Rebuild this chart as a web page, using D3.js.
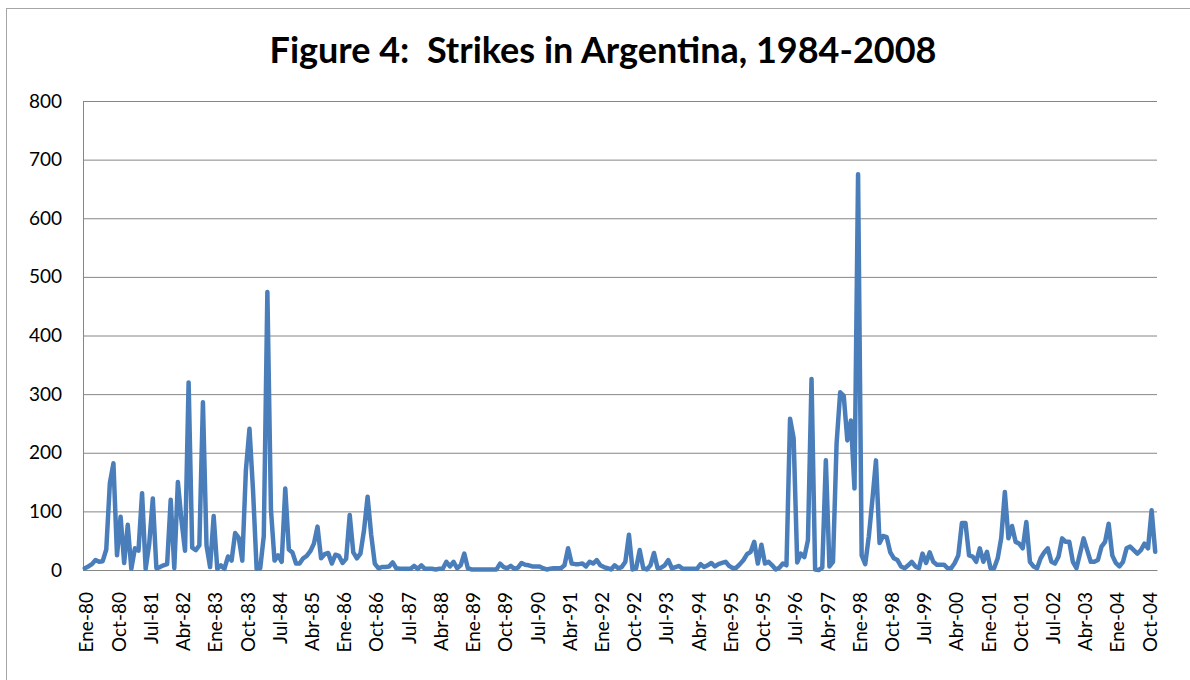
<!DOCTYPE html>
<html>
<head>
<meta charset="utf-8">
<script src="https://cdn.jsdelivr.net/npm/d3@7/dist/d3.min.js"></script>
<style>
    body { margin: 0; background: #fff; }
    svg text { font-family: Lato, "Open Sans", sans-serif; fill: #000; }
</style>
</head>
<body>
<div id="chart-wrapper"></div>
<script>
// month names used in the category axis (Spanish, as in the source sheet)
const monthAbbr = ["Ene","Feb","Mar","Abr","May","Jun","Jul","Ago","Sep","Oct","Nov","Dic"];
const years = d3.range(1980, 2005);

// monthly strikes, one line per year (Ene..Dic)
const strikes = [
    3, 6, 10, 17, 14, 15, 35, 148, 182, 25, 91, 12,        // 80
    77, 2, 37, 33, 131, 2, 45, 122, 3, 5, 8, 10,           // 81
    120, 3, 150, 85, 33, 320, 38, 34, 42, 286, 42, 5,      // 82
    92, 2, 8, 2, 23, 16, 63, 55, 16, 170, 241, 135,        // 83
    2, 3, 58, 474, 103, 16, 25, 14, 139, 35, 30, 11,       // 84
    11, 20, 24, 32, 45, 74, 20, 27, 29, 11, 26, 24,        // 85
    12, 19, 94, 30, 20, 28, 68, 125, 60, 11, 3, 5,         // 86
    5, 6, 13, 3, 2, 2, 2, 2, 7, 2, 8, 2,                   // 87
    2, 2, 1, 2, 2, 14, 6, 14, 3, 8, 28, 3,                 // 88
    1, 1, 1, 1, 1, 1, 1, 1, 11, 5, 3, 7,                   // 89
    2, 4, 12, 9, 8, 6, 6, 6, 3, 1, 2, 3,                   // 90
    3, 3, 8, 37, 11, 10, 10, 11, 6, 14, 11, 17,            // 91
    8, 5, 3, 1, 8, 3, 5, 14, 60, 1, 3, 34,                 // 92
    3, 1, 8, 29, 3, 4, 8, 17, 3, 5, 7, 2,                  // 93
    2, 2, 2, 2, 10, 5, 8, 12, 6, 10, 12, 14,               // 94
    7, 3, 4, 10, 17, 27, 31, 48, 11, 43, 11, 14,           // 95
    8, 1, 4, 11, 8, 258, 225, 13, 28, 22, 51, 326,         // 96
    1, 0, 4, 187, 6, 14, 216, 303, 297, 221, 255, 139,     // 97
    675, 25, 10, 57, 120, 187, 46, 58, 56, 30, 20, 17,     // 98
    6, 3, 8, 14, 6, 3, 28, 12, 30, 14, 9, 9,               // 99
    9, 3, 3, 12, 25, 80, 80, 25, 23, 14, 37, 14,           // 00
    31, 3, 3, 20, 55, 133, 54, 75, 48, 45, 37, 82,         // 01
    14, 6, 3, 20, 30, 37, 14, 11, 23, 54, 48, 48,          // 02
    14, 3, 28, 54, 34, 14, 14, 17, 40, 48, 79, 25,         // 03
    12, 6, 14, 37, 40, 34, 28, 34, 45, 37, 102, 31         // 04
];

const yTicks = [0, 100, 200, 300, 400, 500, 600, 700, 800];
const tickLabels = ["Ene-80","Oct-80","Jul-81","Abr-82","Ene-83","Oct-83","Jul-84","Abr-85",
    "Ene-86","Oct-86","Jul-87","Abr-88","Ene-89","Oct-89","Jul-90","Abr-91","Ene-92","Oct-92",
    "Jul-93","Abr-94","Ene-95","Oct-95","Jul-96","Abr-97","Ene-98","Oct-98","Jul-99","Abr-00",
    "Ene-01","Oct-01","Jul-02","Abr-03","Ene-04","Oct-04"];

const titleText = "Figure 4:  Strikes in Argentina, 1984-2008";

class StrikesChart {
    constructor(){
        this.size = {
            "width": 1190,
            "height": 680,
            "left": 83,
            "right": 1157,
            "top": 101,
            "bottom": 570
        }
        this.categories = years.flatMap(yr => monthAbbr.map(m => m + "-" + String(yr).slice(2)));
        this.svg;
    }

    drawChart(){
        this.svg = d3.select("#chart-wrapper")
            .append("svg")
            .attr("width", this.size.width)
            .attr("height", this.size.height);

        // outer chart frame (runs off the picture on the right and bottom)
        this.svg.append("rect")
            .attr("x", 6.5).attr("y", 8.5)
            .attr("width", 1300).attr("height", 800)
            .attr("fill", "none")
            .attr("stroke", "#a6a6a6");

        this.xScale = d3.scaleBand()
            .domain(this.categories)
            .range([this.size.left, this.size.right]);

        this.yScale = d3.scaleLinear()
            .domain([0, 800])
            .range([this.size.bottom, this.size.top]);

        this.addAxes();
        this.addLine();
        this.addTitle();
    }

    addAxes(){
        let s = this.size;

        let yAxis = this.svg.append("g")
            .attr("transform", `translate(${s.left},0)`)
            .call(d3.axisLeft(this.yScale)
                .tickValues(yTicks)
                .tickSize(-(s.right - s.left))
                .tickPadding(21));
        yAxis.select(".domain").attr("stroke", "#868686");
        yAxis.selectAll(".tick line").attr("stroke", "#868686").attr("stroke-width", 1);
        yAxis.selectAll(".tick text")
            .style("font-size", "19px")
            .style("font-family", "Lato, 'Open Sans', sans-serif");

        let xAxis = this.svg.append("g")
            .attr("transform", `translate(0,${s.bottom})`)
            .call(d3.axisBottom(this.xScale)
                .tickValues(tickLabels)
                .tickSize(0)
                .tickFormat(d => d));
        xAxis.select(".domain").attr("stroke", "#868686");
        xAxis.selectAll(".tick text")
            .attr("text-anchor", "end")
            .attr("transform", "translate(2,22) rotate(-90)")
            .attr("x", 0).attr("y", 0).attr("dy", "0.35em")
            .style("font-size", "19px")
            .style("font-family", "Lato, 'Open Sans', sans-serif");
    }

    addLine(){
        let half = this.xScale.bandwidth() / 2;
        let line = d3.line()
            .x((d, i) => this.xScale(this.categories[i]) + half)
            .y(d => this.yScale(d));

        this.svg.append("path")
            .datum(strikes)
            .attr("d", line)
            .attr("fill", "none")
            .attr("stroke", "#4a7ebb")
            .attr("stroke-width", 4.5)
            .attr("stroke-linejoin", "round")
            .attr("stroke-linecap", "round");
    }

    addTitle(){
        this.svg.append("text")
            .attr("x", 603)
            .attr("y", 63)
            .attr("text-anchor", "middle")
            .style("font-size", "36px")
            .style("font-weight", "bold")
            .style("white-space", "pre")
            .text(titleText);
    }
}

let chart = new StrikesChart();
chart.drawChart();
</script>
</body>
</html>
